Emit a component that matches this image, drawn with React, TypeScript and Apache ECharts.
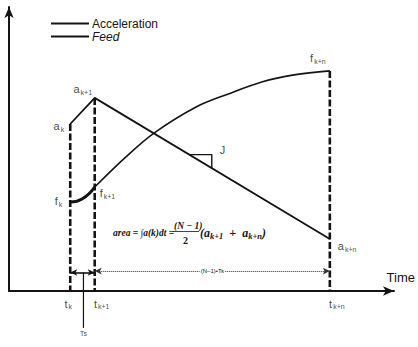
import React, { useEffect, useRef } from "react";
import * as echarts from "echarts";

// time positions (in Ts units from origin)
const timeNames = ["t_k", "t_k+1", "t_k+n"];
const timeX = [2.5, 3.5, 13.1];

// acceleration (thin) values at t_k, t_k+1, t_k+n
const accelX = [2.5, 3.5, 13.1];
const accelY = [58.8, 68.0, 18.3];

// feed, bold head between t_k and t_k+1
const feedHeadX = [2.5, 3.0, 3.5];
const feedHeadY = [31.3, 32.5, 36.6];

// feed, thin tail from t_k+1 to t_k+n
const feedTailX = [3.5, 4.72, 5.92, 7.64, 8.96, 10.32, 11.64, 13.1];
const feedTailY = [36.6, 46.8, 55.6, 64.8, 69.4, 73.6, 76.1, 77.5];

// jerk triangle (x span on the acceleration line)
const jerkX = [7.36, 8.28];

// Ts marker line position
const tsX = 3.04;
const tsBarY = 6.5;
const spanBarY = 7.0;
const tsLineBottom = -13;

const FONT = "'Liberation Sans', Arial, sans-serif";
const SERIF = "'Liberation Serif', 'Times New Roman', serif";
const INK = "#141414";

const rich = {
  m: { fontSize: 11, fontFamily: FONT, color: INK },
  s: { fontSize: 7, fontFamily: FONT, color: INK, padding: [6, 0, 0, 1] },
};

function accelAt(x: number) {
  for (let i = 0; i < accelX.length - 1; i++) {
    if (x >= accelX[i] && x <= accelX[i + 1]) {
      const t = (x - accelX[i]) / (accelX[i + 1] - accelX[i]);
      return accelY[i] + t * (accelY[i + 1] - accelY[i]);
    }
  }
  return accelY[accelY.length - 1];
}

export default function App() {
  const ref = useRef<HTMLDivElement>(null);
  useEffect(() => {
    if (!ref.current) return;
    const chart = echarts.init(ref.current, null, { renderer: "svg" });

    const dashTop = [accelY[0], accelY[1], feedTailY[feedTailY.length - 1]];
    const dashSeries = timeX.map((x, i) => ({
      name: "dash" + i,
      type: "line",
      data: [
        [x, dashTop[i]],
        [x, 0],
      ],
      symbol: "none",
      lineStyle: { color: INK, width: 2.6, type: [7, 2.5] },
      z: 3,
    }));

    const jy1 = accelAt(jerkX[0]);
    const jy2 = accelAt(jerkX[1]);

    const sub = (b: string, s: string) => `{m|${b}}{s|${s}}`;

    const labelData = [
      { value: [accelX[0], accelY[0]], label: { formatter: sub("a", "k"), position: "left", distance: 6, offset: [0, 2] } },
      { value: [accelX[1], accelY[1]], label: { formatter: sub("a", "k+1"), position: "top", distance: 2, offset: [-12, 0] } },
      { value: [accelX[2], accelY[2]], label: { formatter: sub("a", "k+n"), position: "right", distance: 8, offset: [0, 7] } },
      { value: [feedHeadX[0], feedHeadY[0]], label: { formatter: sub("f", "k"), position: "left", distance: 8, offset: [0, -1] } },
      { value: [feedTailX[0], feedTailY[0]], label: { formatter: sub("f", "k+1"), position: "right", distance: 5, offset: [0, 6] } },
      { value: [feedTailX[feedTailX.length - 1], feedTailY[feedTailY.length - 1]], label: { formatter: sub("f", "k+n"), position: "top", distance: 6, offset: [-12, 0] } },
      { value: [jerkX[1], jy1], label: { formatter: "{m|J}", position: "right", distance: 8, offset: [0, -5] } },
      ...timeX.map((x, i) => ({
        value: [x, 0],
        label: {
          formatter: sub("t", timeNames[i].slice(2)),
          position: "bottom",
          distance: 6,
          offset: [i === 0 ? -2 : 7, 0],
        },
      })),
      { value: [tsX, tsLineBottom], label: { formatter: "{t|Ts}", position: "bottom", distance: 2 } },
    ];

    const option: any = {
      animation: false,
      backgroundColor: "#ffffff",
      color: [INK],
      grid: { left: 9, right: 16, top: 7, bottom: 56 },
      legend: {
        left: 45,
        top: 12,
        orient: "vertical",
        itemWidth: 38,
        itemHeight: 8,
        itemGap: 0,
        data: ["Acceleration", "Feed"],
        itemStyle: { opacity: 0 },
        textStyle: {
          fontFamily: FONT,
          fontSize: 12,
          lineHeight: 13,
          color: INK,
          padding: [0, 0, 0, -2],
          rich: { i: { fontStyle: "italic", fontFamily: FONT, fontSize: 12, lineHeight: 13, color: INK } },
        },
        formatter: (n: string) => (n === "Feed" ? `{i|${n}}` : n),
      },
      xAxis: {
        type: "value",
        min: 0,
        max: 15.72,
        axisLine: {
          onZero: false,
          lineStyle: { color: INK, width: 2 },
          symbol: ["none", "arrow"],
          symbolSize: [7, 11],
        },
        axisTick: { show: false },
        axisLabel: { show: false },
        splitLine: { show: false },
        name: "Time",
        nameLocation: "end",
        nameGap: 21,
        nameTextStyle: {
          fontFamily: FONT,
          fontSize: 13,
          color: INK,
          align: "right",
          verticalAlign: "bottom",
          padding: [0, 0, 7, 0],
        },
      },
      yAxis: {
        type: "value",
        min: 0,
        max: 100,
        axisLine: {
          onZero: false,
          lineStyle: { color: INK, width: 2 },
          symbol: ["none", "arrow"],
          symbolSize: [7, 11],
        },
        axisTick: { show: false },
        axisLabel: { show: false },
        splitLine: { show: false },
      },
      series: [
        {
          name: "Acceleration",
          type: "line",
          data: accelX.map((x, i) => [x, accelY[i]]),
          symbol: "none",
          itemStyle: { color: INK },
          lineStyle: { color: INK, width: 1.8 },
          z: 4,
        },
        {
          name: "Feed",
          type: "line",
          data: feedHeadX.map((x, i) => [x, feedHeadY[i]]),
          symbol: "none",
          smooth: 0.5,
          itemStyle: { color: INK },
          lineStyle: { color: INK, width: 3 },
          z: 4,
        },
        {
          name: "FeedTail",
          type: "line",
          data: feedTailX.map((x, i) => [x, feedTailY[i]]),
          symbol: "none",
          smooth: 0.35,
          lineStyle: { color: INK, width: 1.6 },
          z: 4,
        },
        ...dashSeries,
        {
          name: "jerk",
          type: "line",
          data: [
            [jerkX[0], jy1],
            [jerkX[1], jy1],
            [jerkX[1], jy2],
          ],
          symbol: "none",
          lineStyle: { color: INK, width: 1.4 },
        },
        {
          name: "tsLine",
          type: "line",
          clip: false,
          data: [
            [tsX, tsBarY],
            [tsX, tsLineBottom],
          ],
          symbol: "none",
          lineStyle: { color: INK, width: 1.2 },
          markLine: {
            silent: true,
            symbol: ["arrow", "arrow"],
            symbolSize: [5, 7],
            label: { show: false },
            data: [
              [
                { coord: [timeX[0], tsBarY], lineStyle: { color: INK, width: 1.6, type: "solid" } },
                { coord: [timeX[1], tsBarY] },
              ],
            ],
          },
        },
        {
          name: "span",
          type: "line",
          data: [],
          markLine: {
            silent: true,
            symbol: ["arrow", "arrow"],
            symbolSize: [5, 7],
            lineStyle: { color: "#333", width: 1, type: "dotted" },
            label: {
              show: true,
              position: "middle",
              formatter: "(N−1)•Ts",
              fontSize: 6,
              fontFamily: FONT,
              color: INK,
              backgroundColor: "#fff",
              padding: [0, 1],
              distance: -3,
            },
            data: [[{ coord: [timeX[1], spanBarY] }, { coord: [timeX[2], spanBarY] }]],
          },
        },
        {
          name: "labels",
          type: "scatter",
          clip: false,
          symbolSize: 0,
          data: labelData,
          label: {
            show: true,
            color: INK,
            rich: { ...rich, t: { fontSize: 7, fontFamily: FONT, color: INK } },
          },
          z: 6,
        },
      ],
      graphic: [
        {
          type: "group",
          left: 113,
          top: 221,
          children: [
            {
              type: "text",
              x: 0,
              y: 14,
              style: {
                text: "area = ∫a(k)dt =",
                font: `italic bold 9.5px ${SERIF}`,
                fill: INK,
                verticalAlign: "middle",
              },
            },
            {
              type: "text",
              x: 61,
              y: 7,
              style: { text: "(N − 1)", font: `italic bold 9.5px ${SERIF}`, fill: INK, verticalAlign: "middle" },
            },
            {
              type: "line",
              shape: { x1: 60, y1: 12.5, x2: 86, y2: 12.5 },
              style: { stroke: INK, lineWidth: 0.8 },
            },
            {
              type: "text",
              x: 70,
              y: 21,
              style: { text: "2", font: `bold 10px ${SERIF}`, fill: INK, verticalAlign: "middle" },
            },
            {
              type: "text",
              x: 87,
              y: 14,
              style: {
                text: "(a{s|k+1}  +  a{s|k+n})",
                font: `italic bold 12px ${SERIF}`,
                fill: INK,
                verticalAlign: "middle",
                rich: {
                  s: { font: `italic bold 8.5px ${SERIF}`, fill: INK, padding: [5, 0, 0, 0] },
                },
              },
            },
          ],
        },
      ],
    };
    chart.setOption(option);
    return () => chart.dispose();
  }, []);
  return (
    <div
      ref={ref}
      style={{ position: "fixed", left: 0, top: 0, width: 418, height: 347, background: "#fff" }}
    />
  );
}
